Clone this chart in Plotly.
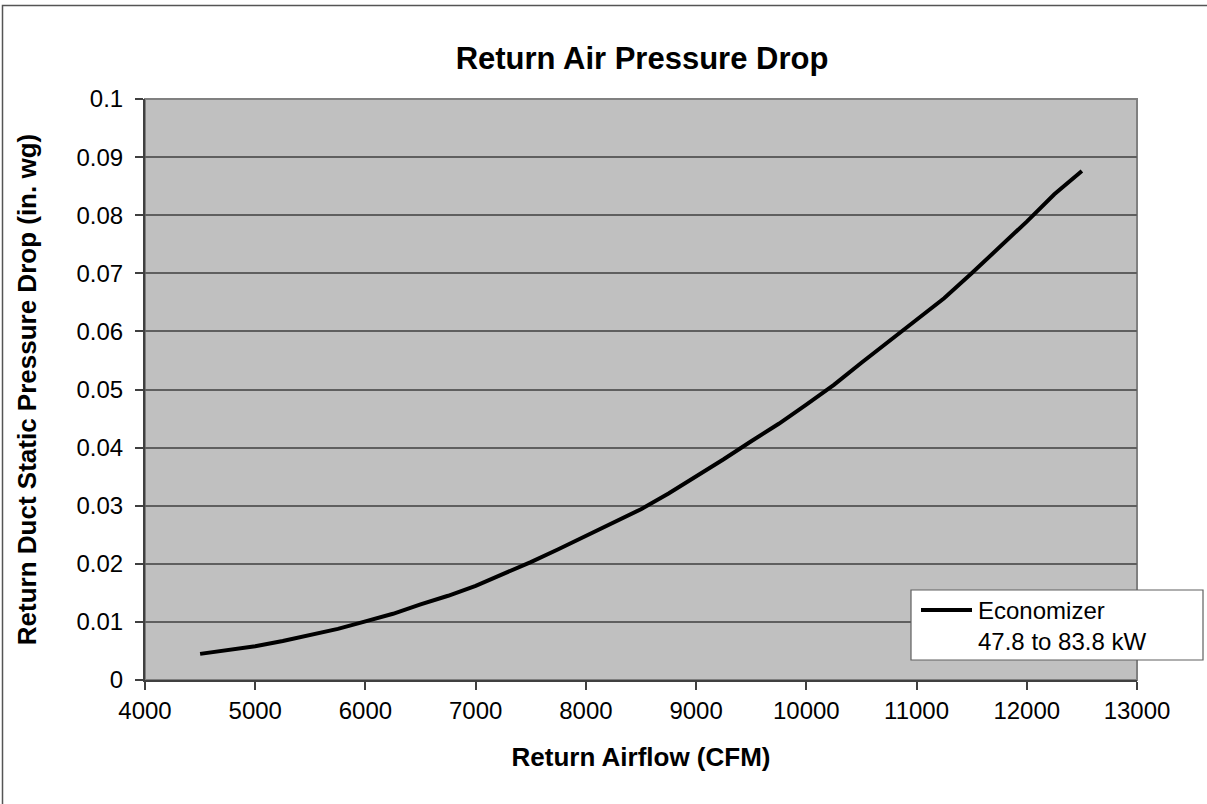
import plotly.graph_objects as go

# Return airflow (CFM) and return duct static pressure drop (in. wg)
airflow_cfm = [4500, 4750, 5000, 5250, 5500, 5750, 6000, 6250, 6500, 6750,
               7000, 7250, 7500, 7750, 8000, 8250, 8500, 8750, 9000, 9250,
               9500, 9750, 10000, 10250, 10500, 10750, 11000, 11250, 11500,
               11750, 12000, 12250, 12500]
pressure_drop = [0.0045, 0.0052, 0.0058, 0.0067, 0.0077, 0.0088, 0.0101,
                 0.0114, 0.0130, 0.0145, 0.0162, 0.0182, 0.0203, 0.0225,
                 0.0248, 0.0271, 0.0294, 0.0321, 0.0350, 0.0380, 0.0411,
                 0.0441, 0.0474, 0.0508, 0.0546, 0.0583, 0.0619, 0.0657,
                 0.0700, 0.0744, 0.0789, 0.0836, 0.0876]

series_name = "Economizer"
series_note = "47.8 to 83.8 kW"
x_ticks = [4000, 5000, 6000, 7000, 8000, 9000, 10000, 11000, 12000, 13000]
x_tick_text = ["4000", "5000", "6000", "7000", "8000", "9000", "10000",
               "11000", "12000", "13000"]
y_ticks = [0, 0.01, 0.02, 0.03, 0.04, 0.05, 0.06, 0.07, 0.08, 0.09, 0.1]
y_tick_text = ["0", "0.01", "0.02", "0.03", "0.04", "0.05", "0.06", "0.07",
               "0.08", "0.09", "0.1"]

FONT = "Liberation Sans, Arial, sans-serif"
W, H = 1207, 804
L, R, T, B = 145, 70, 99, 124
pw, ph = W - L - R, H - T - B


def px_x(p):
    return (p - L) / pw


def px_y(p):
    return (H - B - p) / ph


fig = go.Figure()
fig.add_trace(go.Scatter(
    x=airflow_cfm, y=pressure_drop, mode="lines",
    line=dict(color="#000000", width=4),
    name=series_name, showlegend=False,
))

axis_common = dict(
    showline=True, linecolor="#404040", linewidth=2,
    ticks="outside", ticklen=8, tickwidth=1.5, tickcolor="#404040",
    tickfont=dict(family=FONT, size=24, color="#000000"),
    zeroline=False,
)

fig.update_xaxes(
    range=[4000, 13000], tickvals=x_ticks, ticktext=x_tick_text,
    showgrid=False,
    title=dict(text="<b>Return Airflow (CFM)</b>",
               font=dict(family=FONT, size=26, color="#000000"), standoff=25),
    **axis_common,
)
fig.update_yaxes(
    range=[0, 0.1], tickvals=y_ticks, ticktext=y_tick_text,
    showgrid=True, gridcolor="#5f5f5f", gridwidth=1.5,
    ticklabelstandoff=7,
    title=dict(text="<b>Return Duct Static Pressure Drop (in. wg)</b>",
               font=dict(family=FONT, size=26, color="#000000"), standoff=32),
    **axis_common,
)

shapes = [
    # plot area frame (top and right edges)
    dict(type="rect", xref="paper", yref="paper", x0=0, x1=1, y0=0, y1=1,
         line=dict(color="#808080", width=2), layer="below"),
    # outer chart frame
    dict(type="rect", xref="paper", yref="paper",
         x0=px_x(2.5), x1=px_x(W + 10), y0=px_y(H + 10), y1=px_y(5.5),
         line=dict(color="#555555", width=1.5)),
    # legend box
    dict(type="rect", xref="paper", yref="paper",
         x0=px_x(911), x1=px_x(1203), y0=px_y(660), y1=px_y(590),
         fillcolor="#ffffff", line=dict(color="#606060", width=1.2),
         layer="above"),
    # legend line sample
    dict(type="line", xref="paper", yref="paper",
         x0=px_x(921), x1=px_x(972), y0=px_y(610), y1=px_y(610),
         line=dict(color="#000000", width=4), layer="above"),
]

annotations = [
    dict(xref="paper", yref="paper", x=px_x(976), y=px_y(626),
         xanchor="left", yanchor="middle", showarrow=False, align="left",
         text=series_name + "<br>" + series_note,
         font=dict(family=FONT, size=24, color="#000000")),
]

fig.update_layout(
    width=W, height=H,
    margin=dict(l=L, r=R, t=T, b=B),
    paper_bgcolor="#ffffff", plot_bgcolor="#c0c0c0",
    title=dict(text="<b>Return Air Pressure Drop</b>",
               font=dict(family=FONT, size=31, color="#000000"),
               x=642 / W, xanchor="center",
               y=1 - 58 / H, yanchor="middle"),
    shapes=shapes, annotations=annotations,
    showlegend=False,
)

fig.write_html("out.html")
